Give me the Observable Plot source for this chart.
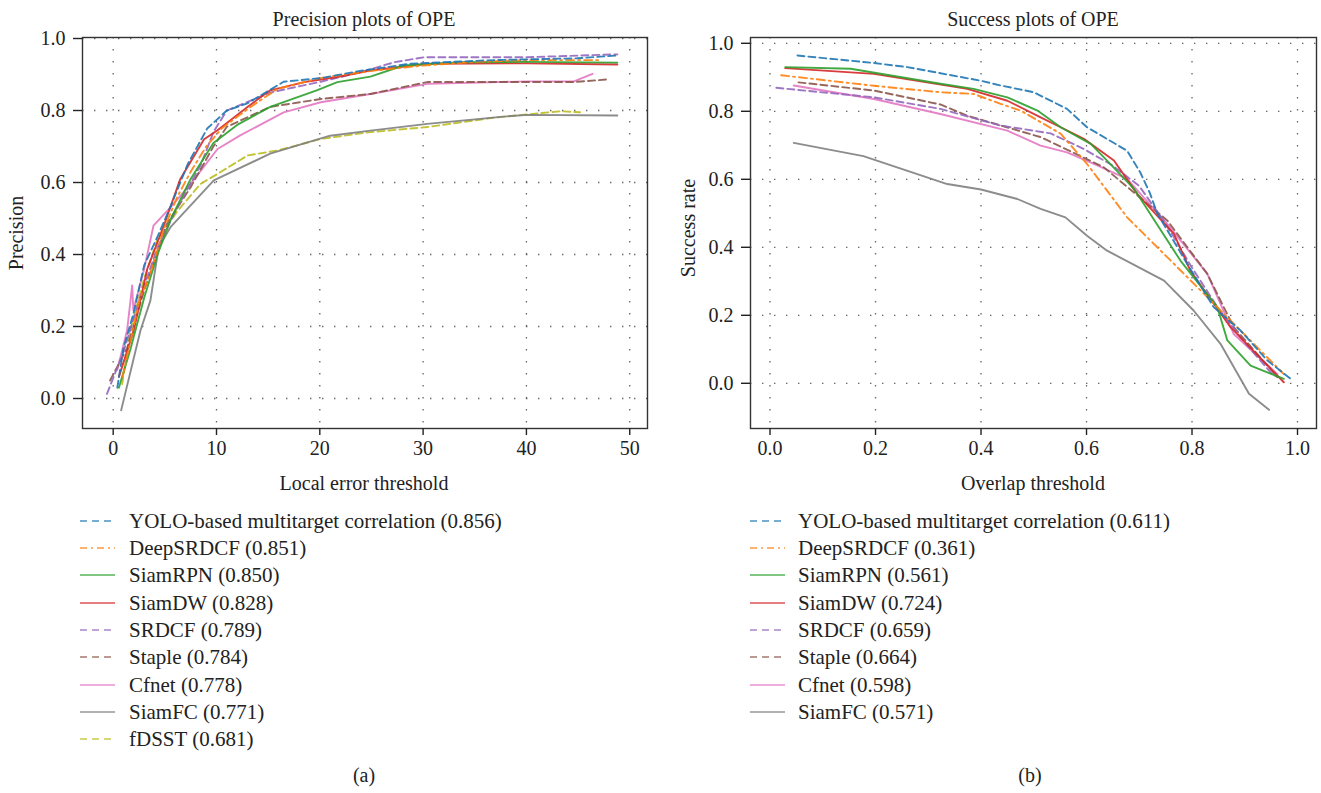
<!DOCTYPE html>
<html>
<head>
<meta charset="utf-8">
<script src="https://cdn.jsdelivr.net/npm/d3@7"></script>
<script src="https://cdn.jsdelivr.net/npm/@observablehq/plot@0.6"></script>
<style>
  html, body { margin: 0; padding: 0; background: #fff; }
  #root { position: relative; width: 1321px; height: 793px; overflow: hidden; font-family: "Liberation Serif", "DejaVu Serif", serif; color: #222; }
  .abs { position: absolute; white-space: nowrap; line-height: 1; }
  .c { transform: translate(-50%, -50%); }
  .lt { transform: translateY(-50%); font-size: 21px; }
  .plot { position: absolute; top: 0; }
</style>
</head>
<body>
<div id="root"></div>
<script>
// ---------- DATA ----------
const seriesNames = ["YOLO-based multitarget correlation", "DeepSRDCF", "SiamRPN", "SiamDW", "SRDCF", "Staple", "Cfnet", "SiamFC", "fDSST"];
const precisionScores = ["0.856", "0.851", "0.850", "0.828", "0.789", "0.784", "0.778", "0.771", "0.681"];
const successScores = ["0.611", "0.361", "0.561", "0.724", "0.659", "0.664", "0.598", "0.571"];

const precXTicks = [0, 10, 20, 30, 40, 50];
const precYTicks = [0.0, 0.2, 0.4, 0.6, 0.8, 1.0];
const succXTicks = [0.0, 0.2, 0.4, 0.6, 0.8, 1.0];
const succYTicks = [0.0, 0.2, 0.4, 0.6, 0.8, 1.0];

// Precision plot: [threshold, precision]
const precYOLO = [[0.4,0.03],[1.0,0.14],[2.0,0.24],[3.0,0.37],[4.3,0.45],[5.5,0.53],[7.2,0.65],[9.1,0.75],[11.0,0.80],[13.0,0.82],[16.5,0.88],[20.1,0.89],[23.9,0.91],[28.8,0.93],[36.8,0.94],[44.9,0.945],[48.8,0.953]];
const precDeepSRDCF = [[0.9,0.06],[1.6,0.15],[2.6,0.28],[3.4,0.33],[4.9,0.47],[6.2,0.56],[7.5,0.63],[9.0,0.70],[10.5,0.75],[13.3,0.81],[15.9,0.86],[20.0,0.89],[25.0,0.91],[30.0,0.925],[35.0,0.935],[40.0,0.94],[47.2,0.94]];
const precSiamRPN = [[0.55,0.03],[1.7,0.14],[3.0,0.28],[4.3,0.40],[5.6,0.50],[7.5,0.61],[9.7,0.71],[12.0,0.76],[15.2,0.81],[19.7,0.856],[21.7,0.879],[24.9,0.894],[28.1,0.925],[33.6,0.934],[40.0,0.935],[48.8,0.933]];
const precSiamDW = [[0.55,0.06],[2.0,0.19],[3.3,0.36],[4.9,0.48],[6.5,0.61],[8.8,0.72],[10.1,0.745],[13.0,0.81],[15.2,0.856],[18.5,0.879],[21.7,0.893],[24.9,0.911],[30.4,0.93],[40.1,0.931],[48.8,0.928]];
const precSRDCF = [[-0.6,0.013],[1.0,0.13],[2.6,0.28],[4.3,0.42],[6.2,0.53],[8.5,0.65],[9.7,0.74],[11.0,0.80],[15.2,0.85],[20.1,0.88],[23.9,0.906],[27.2,0.934],[30.1,0.948],[40.1,0.948],[48.8,0.956]];
const precStaple = [[-0.3,0.05],[1.35,0.14],[3.0,0.30],[5.2,0.485],[7.5,0.587],[9.7,0.70],[11.0,0.755],[12.0,0.768],[15.2,0.81],[20.1,0.832],[24.9,0.846],[30.4,0.879],[44.6,0.879],[47.7,0.886]];
const precCfnet = [[0.4,0.08],[1.35,0.19],[1.84,0.314],[1.95,0.245],[3.0,0.36],[3.9,0.48],[5.55,0.531],[7.5,0.596],[10.1,0.693],[12.3,0.731],[16.5,0.795],[20.1,0.823],[24.9,0.846],[30.4,0.874],[40.1,0.881],[44.6,0.881],[46.4,0.902]];
const precSiamFC = [[0.77,-0.033],[2.64,0.189],[3.6,0.272],[4.4,0.42],[5.55,0.476],[9.74,0.606],[15.2,0.68],[21.0,0.73],[24.9,0.744],[30.4,0.763],[37.8,0.783],[40.1,0.788],[48.8,0.786]];
const precFDSST = [[0.87,0.04],[1.67,0.19],[2.96,0.33],[4.26,0.44],[6.2,0.52],[8.45,0.596],[10.1,0.624],[13.0,0.675],[15.9,0.689],[20.1,0.721],[24.9,0.74],[30.4,0.754],[36.8,0.78],[43.3,0.798],[45.2,0.795]];

// Success plot: [overlap threshold, success rate]
const succYOLO = [[0.052,0.964],[0.197,0.942],[0.26,0.93],[0.399,0.89],[0.437,0.876],[0.5,0.856],[0.563,0.807],[0.601,0.753],[0.677,0.684],[0.702,0.62],[0.72,0.56],[0.734,0.50],[0.791,0.351],[0.841,0.224],[0.892,0.155],[0.943,0.067],[0.987,0.013]];
const succDeepSRDCF = [[0.021,0.906],[0.197,0.875],[0.323,0.856],[0.386,0.851],[0.437,0.822],[0.475,0.802],[0.551,0.734],[0.601,0.645],[0.677,0.488],[0.753,0.371],[0.848,0.224],[0.974,0.027]];
const succSiamRPN = [[0.029,0.93],[0.153,0.925],[0.323,0.881],[0.386,0.866],[0.45,0.841],[0.507,0.802],[0.551,0.753],[0.608,0.704],[0.639,0.655],[0.69,0.572],[0.778,0.361],[0.848,0.224],[0.867,0.126],[0.911,0.052],[0.974,0.013]];
const succSiamDW = [[0.029,0.927],[0.197,0.910],[0.374,0.866],[0.45,0.831],[0.513,0.782],[0.551,0.753],[0.595,0.719],[0.652,0.655],[0.696,0.557],[0.766,0.439],[0.797,0.331],[0.873,0.165],[0.974,0.003]];
const succSRDCF = [[0.012,0.869],[0.197,0.841],[0.323,0.807],[0.437,0.758],[0.532,0.735],[0.595,0.689],[0.65,0.64],[0.7,0.58],[0.75,0.47],[0.8,0.34],[0.85,0.22],[0.9,0.12],[0.95,0.03],[0.96,0.02]];
const succStaple = [[0.054,0.885],[0.197,0.861],[0.323,0.82],[0.374,0.787],[0.513,0.724],[0.633,0.635],[0.753,0.479],[0.829,0.322],[0.879,0.165],[0.962,0.018]];
const succCfnet = [[0.045,0.876],[0.197,0.836],[0.323,0.792],[0.45,0.743],[0.513,0.699],[0.563,0.679],[0.614,0.645],[0.677,0.601],[0.753,0.469],[0.829,0.322],[0.879,0.145],[0.962,0.027]];
const succSiamFC = [[0.045,0.707],[0.177,0.668],[0.336,0.586],[0.4,0.57],[0.469,0.542],[0.513,0.513],[0.56,0.488],[0.601,0.434],[0.639,0.39],[0.747,0.302],[0.803,0.214],[0.854,0.116],[0.908,-0.031],[0.946,-0.078]];

// ---------- STYLES ----------
const colors = ["#1f77b4", "#ff7f0e", "#2ca02c", "#d62728", "#9467bd", "#8c564b", "#e377c2", "#7f7f7f", "#bcbd22"];
const dashes = ["7,4", "8,4,2,4", null, null, "7,4", "7,4", null, null, "7,4"];
const legendDashes = ["7,5", "7,4,2,4", null, null, "7,5", "7,5", null, null, "7,5"];

const precSeries = [precYOLO, precDeepSRDCF, precSiamRPN, precSiamDW, precSRDCF, precStaple, precCfnet, precSiamFC, precFDSST];
const succSeries = [succYOLO, succDeepSRDCF, succSiamRPN, succSiamDW, succSRDCF, succStaple, succCfnet, succSiamFC];

const root = document.getElementById("root");
const font = '"Liberation Serif", "DejaVu Serif", serif';

function lineMarks(series) {
  // draw in reverse so first series on top
  const marks = [];
  for (let i = series.length - 1; i >= 0; i--) {
    marks.push(Plot.line(series[i], {
      x: d => d[0], y: d => d[1],
      stroke: colors[i], strokeWidth: 1.9, strokeOpacity: 0.9,
      strokeDasharray: dashes[i] || undefined
    }));
  }
  return marks;
}

function makePlot(opts) {
  return Plot.plot({
    width: opts.width, height: 470,
    marginLeft: opts.ml, marginRight: opts.mr, marginTop: 37, marginBottom: 42,
    style: { fontFamily: font, fontSize: "20px", color: "#222", background: "transparent", overflow: "visible" },
    x: { domain: opts.xd },
    y: { domain: opts.yd },
    marks: [
      Plot.gridX(opts.xt, { stroke: "#555", strokeOpacity: 0.9, strokeWidth: 1.3, strokeDasharray: "1.4,10.6" }),
      Plot.gridY(opts.yt, { stroke: "#555", strokeOpacity: 0.9, strokeWidth: 1.3, strokeDasharray: "1.4,10.6" }),
      ...lineMarks(opts.series),
      Plot.frame({ stroke: "#333", strokeWidth: 1.4 }),
      Plot.axisX(opts.xt, { tickSize: 7, tickPadding: 5, label: null, strokeWidth: 1.4, tickFormat: opts.xf }),
      Plot.axisY(opts.yt, { tickSize: 9, tickPadding: 8, label: null, strokeWidth: 1.4, tickFormat: d3.format(".1f") })
    ]
  });
}

const left = makePlot({ width: 660, ml: 82, mr: 13, xd: [-2.97, 51.72], yd: [-0.0833, 1.0028], xt: precXTicks, yt: precYTicks, xf: d3.format("d"), series: precSeries });
left.classList.add("plot");
left.style.left = "0px";
root.appendChild(left);

const right = makePlot({ width: 661, ml: 90, mr: 5, xd: [-0.037, 1.036], yd: [-0.133, 1.017], xt: succXTicks, yt: succYTicks, xf: d3.format(".1f"), series: succSeries });
right.classList.add("plot");
right.style.left = "660px";
root.appendChild(right);

function addText(txt, x, y, size, rotate) {
  const d = document.createElement("div");
  d.className = "abs";
  d.textContent = txt;
  d.style.left = x + "px";
  d.style.top = y + "px";
  d.style.fontSize = size + "px";
  d.style.transform = "translate(-50%, -50%)" + (rotate ? " rotate(-90deg)" : "");
  root.appendChild(d);
}

addText("Precision plots of OPE", 364, 19, 20);
addText("Success plots of OPE", 1033, 19, 20);
addText("Local error threshold", 364, 483, 20);
addText("Overlap threshold", 1033, 483, 20);
addText("Precision", 16, 233, 20, true);
addText("Success rate", 688, 228, 20, true);
addText("(a)", 364, 775, 20);
addText("(b)", 1030, 775, 20);

function addLegend(x0, textX, scores) {
  scores.forEach((s, i) => {
    const cy = 520.7 + 27.3 * i;
    const svg = d3.create("svg").attr("width", 36).attr("height", 10)
      .style("position", "absolute").style("left", x0 + "px").style("top", (cy - 5) + "px");
    svg.append("line").attr("x1", 0).attr("x2", 35).attr("y1", 5).attr("y2", 5)
      .attr("stroke", colors[i]).attr("stroke-width", 1.5).attr("stroke-opacity", 0.8)
      .attr("stroke-dasharray", legendDashes[i]);
    root.appendChild(svg.node());
    const t = document.createElement("div");
    t.className = "abs lt";
    t.textContent = seriesNames[i] + " (" + s + ")";
    t.style.left = textX + "px";
    t.style.top = cy + "px";
    root.appendChild(t);
  });
}
addLegend(80, 129, precisionScores);
addLegend(750, 798, successScores);
</script>
</body>
</html>
